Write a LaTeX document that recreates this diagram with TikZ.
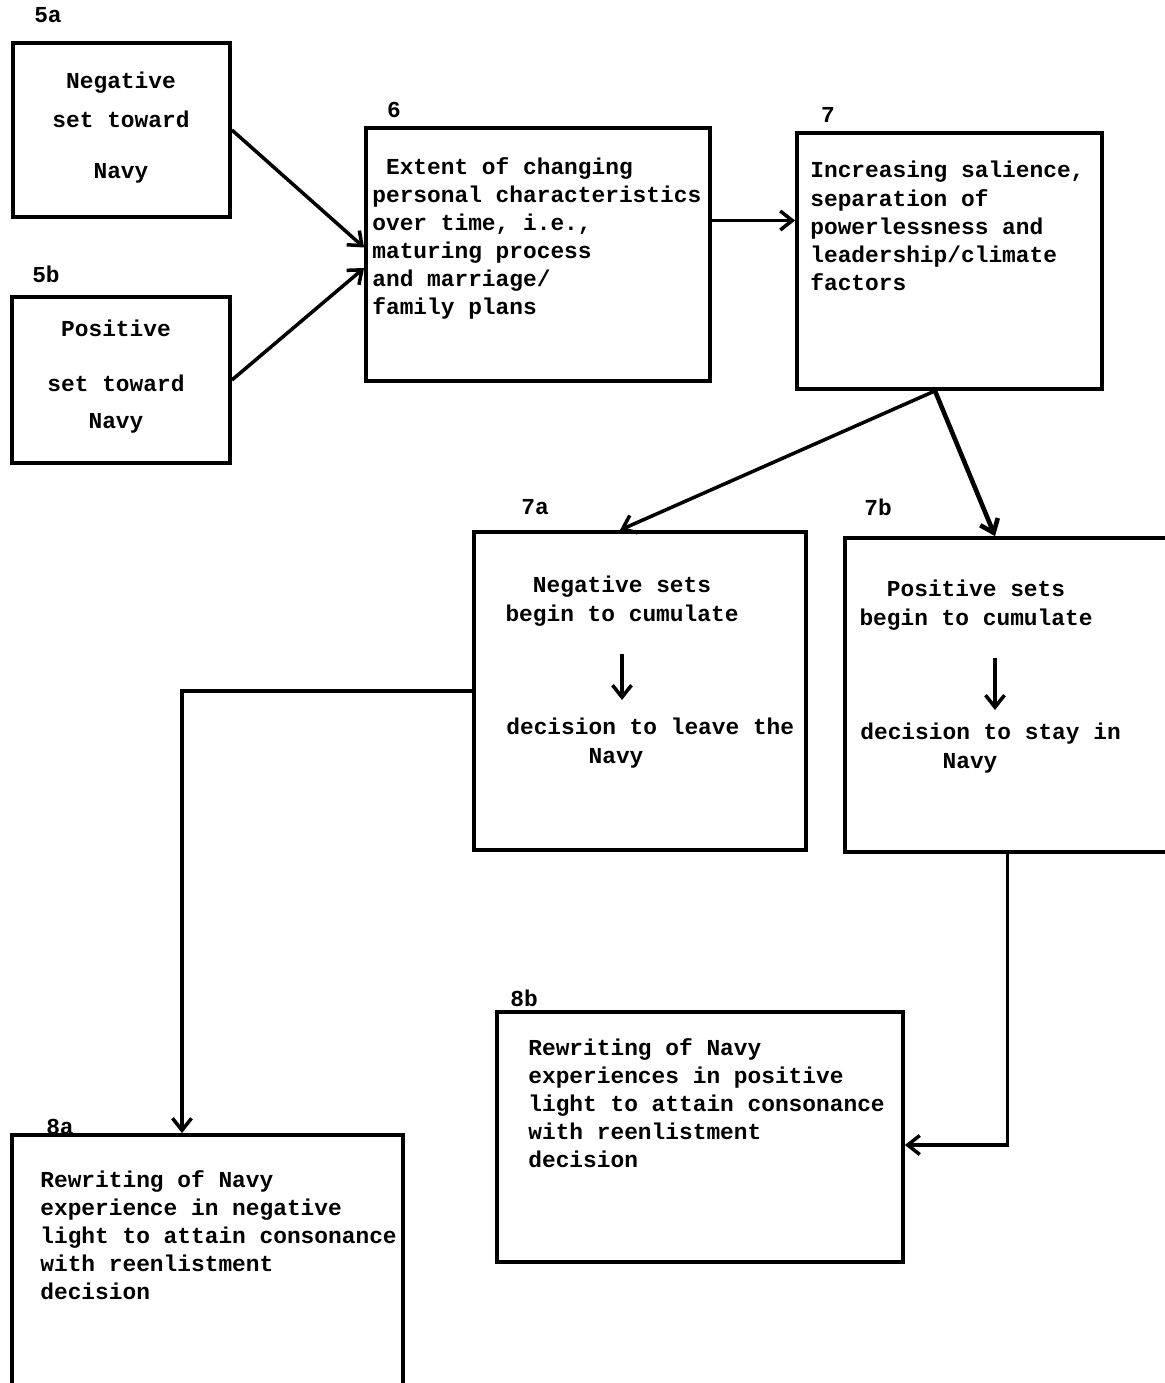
\documentclass[tikz,border=0pt]{standalone}
\usepackage{fontspec}
\usepackage{tikz}
\usetikzlibrary{arrows.meta}
\newfontfamily\typefont{Liberation Mono}

\begin{document}
\begin{tikzpicture}[x=0.02cm,y=-0.02cm,
    box/.style={draw,line width=2.2pt,inner sep=0pt},
    txt/.style={font=\typefont\bfseries\fontsize{13}{16}\selectfont,inner sep=0pt},
    num/.style={font=\typefont\bfseries\fontsize{13}{15}\selectfont,inner sep=0pt},
    arr/.style={-{Straight Barb[length=2.4mm,width=3.8mm]},line width=2pt}
  ]
  \useasboundingbox (0,0) rectangle (1165,1383);
  % boxes
  \node[box,minimum width=4.34cm,minimum height=3.48cm] (b5a) at (121.5,130) {};
  \node[box,minimum width=4.36cm,minimum height=3.32cm] (b5b) at (121,380) {};
  \node[box,minimum width=6.88cm,minimum height=5.06cm] (b6) at (538,254.5) {};
  \node[box,minimum width=6.10cm,minimum height=5.12cm] (b7) at (949.5,261) {};
  \node[box,minimum width=6.64cm,minimum height=6.36cm] (b7a) at (640,691) {};
  \node[box,minimum width=6.50cm,minimum height=6.28cm] (b7b) at (1007.5,695) {};
  \node[box,minimum width=7.82cm,minimum height=5.30cm] (b8a) at (207.5,1267.5) {};
  \node[box,minimum width=8.12cm,minimum height=5.00cm] (b8b) at (700,1137) {};
  % numbers
  \node[num] (n5a) at (48,15) {5a};
  \node[num] (n5b) at (46,274) {5b};
  \node[num] (n6) at (394,110) {6};
  \node[num] (n7) at (828,115) {7};
  \node[num] (n7a) at (535,507) {7a};
  \node[num] (n7b) at (878,507) {7b};
  \node[num] (n8a) at (60,1127) {8a};
  \node[num] (n8b) at (524,998) {8b};
  % texts
  \node[txt,anchor=north,align=center] (t5a) at (121,72)
    {Negative\\[6pt]set toward\\[13pt]Navy};
  \node[txt,anchor=north,align=center] (t5b) at (116,320)
    {Positive\\[15pt]set toward\\[5pt]Navy};
  \node[txt,anchor=north west,align=left] (t6) at (372,157)
    {\phantom{x}Extent of changing\\personal characteristics\\over time, i.e.,\\
     maturing process\\and marriage/\\family plans};
  \node[txt,anchor=north west,align=left] (t7) at (810,161)
    {Increasing salience,\\separation of\\powerlessness and\\
     leadership/climate\\factors};
  \node[txt,anchor=north,align=center] (t7a1) at (622,576)
    {Negative sets\\begin to cumulate};
  \node[txt,anchor=north west,align=left] (t7a2) at (506,718)
    {decision to leave the\\\phantom{xxxxxx}Navy};
  \node[txt,anchor=north,align=center] (t7b1) at (976,580)
    {Positive sets\\begin to cumulate};
  \node[txt,anchor=north west,align=left] (t7b2) at (860,723)
    {decision to stay in\\\phantom{xxxxxx}Navy};
  \node[txt,anchor=north west,align=left] (t8a) at (40,1170)
    {Rewriting of Navy\\experience in negative\\light to attain consonance\\
     with reenlistment\\decision};
  \node[txt,anchor=north west,align=left] (t8b) at (528,1038)
    {Rewriting of Navy\\experiences in positive\\light to attain consonance\\
     with reenlistment\\decision};
  % connectors
  \draw[arr] (b5a.east) -- ([yshift=0.14cm]b6.west);
  \draw[arr] (b5b.east) -- ([yshift=-0.27cm]b6.west);
  \draw[arr] ([yshift=0.68cm]b6.east) -- ([yshift=0.68cm]b6.east -| b7.west);
  \draw[arr] ([xshift=-0.29cm]b7.south) -- ([xshift=-0.4cm]b7a.north);
  \draw[arr,line width=2.6pt] ([xshift=-0.29cm]b7.south) -- ([xshift=-0.25cm]b7b.north);
  \draw[arr] (b7a.west) -| ([xshift=-0.51cm]b8a.north);
  \draw[arr] (b7b.south) |- ([yshift=-0.16cm]b8b.east);
  \draw[arr,shorten <=0.56cm,shorten >=0.36cm] (t7a1.south) -- (t7a1.south |- t7a2.north);
  \draw[arr,shorten <=0.56cm,shorten >=0.26cm]
    ([xshift=0.38cm]t7b1.south) -- ([xshift=0.38cm]t7b1.south |- t7b2.north);
\end{tikzpicture}
\end{document}
